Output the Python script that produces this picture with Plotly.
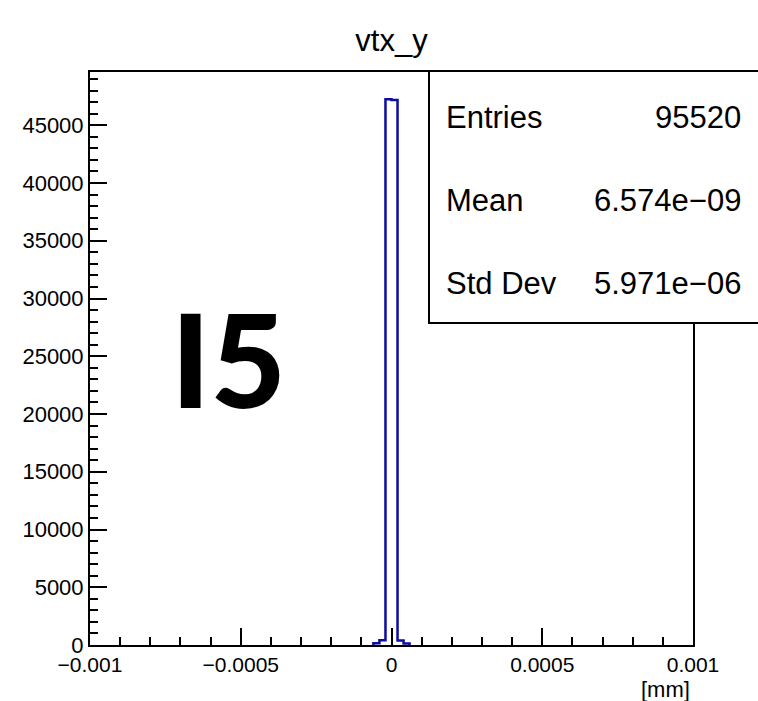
import numpy as np
import plotly.graph_objects as go

# ---- data ----
title = "vtx_y"
x_min, x_max, n_bins = -0.001, 0.001, 100
nonzero_bin_centers = [-5e-5, -3e-5, -1e-5, 1e-5, 3e-5, 5e-5]
nonzero_counts = [150, 410, 47250, 47180, 390, 140]
x_tick_vals = [-0.001, -0.0005, 0, 0.0005, 0.001]
x_tick_text = ["\u22120.001", "\u22120.0005", "0", "0.0005", "0.001"]
y_tick_vals = [0, 5000, 10000, 15000, 20000, 25000, 30000, 35000, 40000, 45000]
stats_labels = ["Entries", "Mean", "Std Dev"]
stats_values = ["95520", "6.574e\u221209", "5.971e\u221206"]
x_unit = "[mm]"
stamp = "I5"

# ---- build histogram ----
edges = np.linspace(x_min, x_max, n_bins + 1)
width = (x_max - x_min) / n_bins
counts = np.zeros(n_bins)
for c, v in zip(nonzero_bin_centers, nonzero_counts):
    idx = int(round((c - x_min) / width - 0.5))
    counts[idx] = v

nz = np.nonzero(counts)[0]
i0, i1 = nz[0], nz[-1]
xs = [edges[i0]]
ys = [0]
for i in range(i0, i1 + 1):
    xs += [edges[i], edges[i + 1]]
    ys += [counts[i], counts[i]]
xs.append(edges[i1 + 1])
ys.append(0)

FONT = "Liberation Sans, Arial, Helvetica, sans-serif"
BLUE = "#0c0c9e"

fig = go.Figure()
fig.add_trace(go.Scatter(x=xs, y=ys, mode="lines",
                         line=dict(color=BLUE, width=2.5), hoverinfo="skip",
                         showlegend=False))

W, H = 758, 701
L, R, T, B = 90, 65, 72, 56
pw, ph = W - L - R, H - T - B

fig.update_layout(
    width=W, height=H,
    margin=dict(l=L, r=R, t=T, b=B),
    paper_bgcolor="white", plot_bgcolor="white",
    font=dict(family=FONT, color="black", size=22),
    title=dict(text=title, x=0.5, xref="paper", xanchor="center",
               y=1 - 40 / H, yanchor="middle",
               font=dict(size=31, family=FONT, color="black")),
    showlegend=False,
)
fig.update_xaxes(
    range=[x_min, x_max], showgrid=False, zeroline=False,
    showline=True, linecolor="black", linewidth=2, mirror=True,
    layer="above traces",
    ticks="inside", ticklen=17, tickwidth=2, tickcolor="black",
    tickvals=x_tick_vals, ticktext=x_tick_text,
    tickfont=dict(size=21, family=FONT), ticklabelstandoff=0,
    minor=dict(dtick=0.0001, ticks="inside", ticklen=8, tickwidth=2,
               tickcolor="black", showgrid=False),
)
y_top = 1.05 * max(nonzero_counts)
fig.update_yaxes(
    range=[0, y_top], showgrid=False, zeroline=False,
    showline=True, linecolor="black", linewidth=2, mirror=True,
    layer="above traces",
    ticks="inside", ticklen=17, tickwidth=2, tickcolor="black",
    tickvals=y_tick_vals, ticktext=[str(v) for v in y_tick_vals],
    tickfont=dict(size=22, family=FONT), ticklabelstandoff=0,
    minor=dict(dtick=1000, ticks="inside", ticklen=8, tickwidth=2,
               tickcolor="black", showgrid=False),
)

# stats box
bx0 = (429 - L) / pw
bx1 = (762 - L) / pw
by1 = (H - B - 71) / ph
by0 = (H - B - 323) / ph
fig.add_shape(type="rect", xref="paper", yref="paper",
              x0=bx0, x1=bx1, y0=by0, y1=by1,
              line=dict(color="black", width=2), fillcolor="white", layer="above")
row_y = [117, 200, 283]
for lab, val, ry in zip(stats_labels, stats_values, row_y):
    yy = (H - B - ry) / ph
    fig.add_annotation(xref="paper", yref="paper", x=(444 - L) / pw, y=yy,
                       text=lab, showarrow=False, xanchor="left", yanchor="middle",
                       font=dict(size=31, family=FONT, color="black"))
    fig.add_annotation(xref="paper", yref="paper", x=(743 - L) / pw, y=yy,
                       text=val, showarrow=False, xanchor="right", yanchor="middle",
                       font=dict(size=31, family=FONT, color="black"))

# axis unit
fig.add_annotation(xref="paper", yref="paper", x=(692 - L) / pw, y=(H - B - 689) / ph,
                   text=x_unit, showarrow=False, xanchor="right", yanchor="middle",
                   font=dict(size=22, family=FONT, color="black"))

# big stamp
fig.add_annotation(xref="paper", yref="paper", x=(228 - L) / pw, y=(H - B - 358) / ph,
                   text="<b>" + stamp + "</b>", showarrow=False,
                   xanchor="center", yanchor="middle",
                   font=dict(size=130, family="Lato Black, Lato", weight=900, color="black"))

fig.write_html("out.html")
